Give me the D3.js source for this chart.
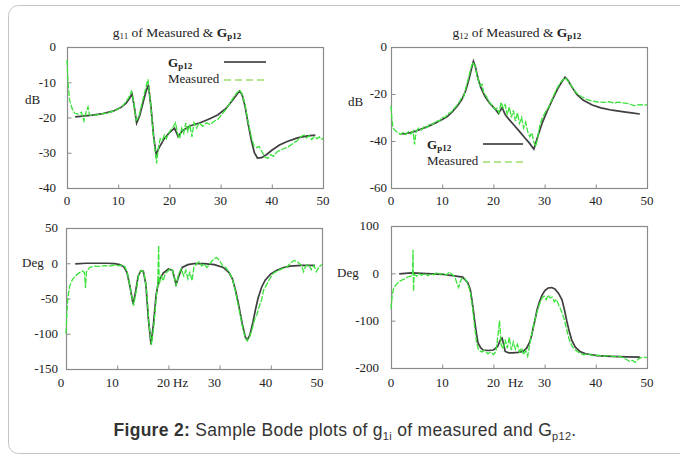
<!DOCTYPE html>
<html>
<head>
<meta charset="utf-8">
<script src="https://cdn.jsdelivr.net/npm/d3@7"></script>
<style>
  body { margin: 0; background: #fff; }
  text { font-family: "Liberation Serif", "Times New Roman", serif; fill: #222; }
</style>
</head>
<body>
<script>
// x ticks shared by all four plots (Hz)
const freqTicks = [0, 10, 20, 30, 40, 50];

// g11 magnitude (dB)
const g11MagModel = [[1.6,-19.8],[3,-19.6],[5,-19.3],[7,-18.9],[9,-18.2],[10.5,-17.2],[11.5,-16],[12.2,-14.6],[12.7,-13.3],[13.1,-16.5],[13.6,-21.6],[14.2,-19.5],[15,-15],[15.5,-12.3],[15.9,-10.8],[16.4,-17],[16.9,-25],[17.4,-30.6],[18,-28.5],[19,-26],[20,-24.3],[21,-23],[21.7,-25.4],[22.5,-23.8],[24,-22.4],[26,-21.5],[28,-20.3],[29.5,-19.2],[31,-17.5],[32.3,-15.2],[33.2,-13.4],[33.7,-12.5],[34.2,-13.5],[34.8,-17],[35.4,-22],[36,-26.5],[36.6,-30],[37.2,-31.5],[38,-31.4],[39,-30.5],[40,-29.3],[41.5,-27.8],[43,-26.8],[45,-25.8],[47,-25.2],[48.5,-25]];
const g11MagMeasured = [[0,-3.7],[0.2,-10],[0.5,-15],[1,-17.5],[1.5,-18.8],[2.2,-19],[2.8,-18.5],[3.3,-21],[3.7,-18.5],[4.1,-17],[4.4,-19.3],[5,-19.4],[6,-19.2],[7,-18.9],[8,-18.7],[9,-18.2],[10,-17.6],[11,-16.5],[12,-14.5],[12.6,-12.6],[13,-15.5],[13.5,-20.8],[14,-20],[14.8,-15],[15.4,-11.5],[15.8,-9.2],[16.3,-15.5],[16.8,-24],[17.2,-29],[17.5,-33],[17.8,-29],[18.2,-26],[18.6,-26.5],[19,-25],[19.4,-26],[19.8,-24.5],[20.3,-23.5],[20.8,-22.5],[21.2,-21.5],[21.6,-24.5],[22,-26],[22.4,-23],[22.8,-24.5],[23.2,-21.5],[23.6,-24],[24,-22],[24.4,-25.5],[24.8,-21.5],[25.3,-23],[25.8,-21.5],[26.5,-22.5],[27.2,-21.5],[28,-22],[28.8,-21],[29.5,-20.5],[30.3,-19],[31,-17.8],[32,-15.5],[33,-13.3],[33.7,-12.2],[34.2,-13.3],[34.8,-16.5],[35.4,-21.5],[36,-25.5],[36.5,-28],[37,-28.6],[37.5,-28.2],[38,-29.5],[38.6,-31.2],[39.2,-31.6],[39.8,-30.5],[40.3,-31],[41,-29.8],[42,-29],[43,-28.5],[44,-27.5],[45,-26.5],[45.8,-25.3],[46.3,-25],[46.8,-25.8],[47.3,-25.2],[47.8,-26.3],[48.3,-25.4],[48.8,-26],[49.3,-25.5],[49.8,-26.2],[50,-25.8]];

// g12 magnitude (dB)
const g12MagModel = [[2,-37],[3,-36.8],[4,-36.3],[5.3,-35.4],[7,-34],[8.6,-32.4],[10,-30.8],[11,-29.6],[12,-27.5],[13,-25],[13.8,-22.5],[14.6,-18.5],[15.2,-14],[15.7,-9.5],[16.1,-6],[16.5,-8.5],[17,-13.5],[17.6,-17.5],[18.4,-21.2],[19.3,-24],[20.3,-26.3],[21,-28.3],[21.7,-25.8],[22.3,-28.8],[23,-30.7],[24,-33.2],[25,-35.7],[26,-38.3],[27,-40.8],[27.9,-43.5],[28.6,-38.5],[29.5,-32.5],[30.5,-27.3],[31.5,-22.5],[32.5,-18],[33.3,-15],[34,-12.8],[34.6,-14.3],[35.4,-17.3],[36.3,-20.2],[37.5,-22.6],[39.3,-24.7],[41,-25.9],[43.2,-26.9],[45.5,-27.6],[47,-28],[48.6,-28.5]];
const g12MagMeasured = [[0,-25],[0.15,-30],[0.4,-34.5],[0.8,-35.5],[1.3,-36.3],[1.8,-37.2],[2.4,-36.4],[2.9,-37.3],[3.4,-36],[3.9,-37],[4.3,-35.8],[4.6,-41.5],[4.9,-36],[5.4,-34.5],[6,-35.3],[6.5,-33.8],[7,-34.3],[7.6,-32.6],[8.2,-33],[8.8,-31.4],[9.4,-31.6],[10,-30],[10.6,-29.8],[11.2,-28.4],[11.8,-27.6],[12.4,-26],[13,-24.5],[13.4,-23.2],[13.8,-21.5],[14.2,-21.2],[14.6,-17.5],[15.1,-13.5],[15.6,-9],[16,-6.5],[16.4,-8],[16.9,-13],[17.4,-16.5],[17.8,-15.8],[18.1,-19.5],[18.6,-21],[19.2,-23.5],[19.8,-25],[20.3,-26.5],[20.7,-26],[21.1,-28],[21.5,-23.5],[21.9,-26],[22.3,-24.5],[22.7,-29],[23.1,-25.5],[23.5,-30],[23.9,-27],[24.3,-31.5],[24.7,-28],[25.1,-32.5],[25.5,-30],[25.9,-34.5],[26.3,-32],[26.7,-36],[27.1,-38.2],[27.5,-36.5],[27.9,-40.5],[28.3,-42.3],[28.7,-38],[29.1,-33],[29.6,-30],[30.2,-27.5],[30.8,-25.5],[31.5,-22],[32.3,-18],[33.2,-14.8],[34,-13],[34.6,-14.5],[35.4,-17],[36.3,-19.8],[37.3,-21.3],[38.3,-22.3],[39.3,-23],[40.4,-23.4],[41.5,-23.6],[42.5,-23.3],[43.5,-23.8],[44.5,-23.5],[45.7,-23.9],[46.6,-24.2],[47.6,-25],[48.6,-24.5],[49.6,-24.7],[50,-24.5]];

// g11 phase (deg)
const g11PhaseModel = [[1.8,-1],[4,0],[6,0],[8,0],[9.5,-0.5],[10.5,-2],[11.3,-5],[11.9,-13],[12.5,-33],[13.1,-58],[13.6,-40],[14.1,-18],[14.6,-11],[15.1,-11.5],[15.6,-30],[16.1,-80],[16.6,-115],[17.1,-85],[17.6,-45],[18.1,-25],[19,-14],[20,-8],[20.8,-10],[21.5,-30],[22.1,-17],[22.7,-6],[23.8,-2],[25,-0.5],[27,-0.5],[29,-2],[30.7,-6],[31.8,-13],[32.5,-22],[33.1,-38],[33.7,-58],[34.4,-85],[35,-104],[35.4,-109],[35.9,-102],[36.5,-84],[37,-66],[37.5,-50],[38.2,-34],[38.9,-24],[40,-15],[41.2,-10],[42.5,-6],[43.8,-4],[46,-3],[48.6,-3]];
const g11PhaseMeasured = [[0,-100],[0.15,-75],[0.35,-50],[0.7,-33],[1.2,-24],[1.8,-18],[2.5,-14],[3.2,-11],[3.6,-13],[3.8,-35],[4,-12],[4.6,-6],[5.5,-4],[6.5,-4.5],[7.5,-3.5],[8.5,-4],[9.5,-2.5],[10.3,-3.5],[11,-2.5],[11.5,-5],[12,-14],[12.6,-38],[13.2,-60],[13.7,-40],[14.2,-16],[14.7,-10],[15.2,-13],[15.7,-35],[16.2,-85],[16.7,-116],[17.2,-85],[17.6,-50],[17.9,-30],[18.1,25],[18.2,-30],[18.6,-18],[19,-25],[19.4,-14],[19.8,-12],[20.3,-8],[20.8,-10],[21.5,-32],[22,-15],[22.5,-8],[23,-18],[23.4,-10],[23.8,-22],[24.2,-12],[24.6,-25],[25,-5],[25.5,-1],[26,2],[26.5,-4],[27,-1],[27.5,-6],[28.2,0],[28.8,6],[29.4,8],[30,4],[30.6,-4],[31.2,-6],[31.8,-12],[32.5,-22],[33.1,-40],[33.7,-62],[34.4,-88],[35,-106],[35.4,-110],[35.9,-104],[36.4,-92],[36.9,-78],[37.3,-73],[37.7,-62],[38.2,-52],[38.6,-38],[39.2,-30],[39.8,-22],[40.5,-14],[41.5,-10],[42.5,-7],[43.2,-5],[43.8,0],[44.5,4],[45,3],[45.5,0],[46,-3],[46.4,-12],[46.8,-4],[47.4,-2],[47.9,-9],[48.4,-3],[48.9,-12],[49.4,-5],[50,-2]];

// g12 phase (deg)
const g12PhaseModel = [[1.6,-1],[4,1],[6,0],[8,-1],[10,-2],[12,-5],[14,-8],[15,-20],[15.5,-35],[15.8,-56],[16.1,-80],[16.4,-105],[16.7,-128],[17,-147],[17.5,-157],[18,-162],[19,-163],[20,-162],[20.8,-155],[21.4,-140],[21.7,-137],[22,-150],[22.3,-165],[23,-168],[23.8,-168],[24.8,-167],[25.8,-165],[26.5,-158],[27.1,-145],[27.5,-130],[27.8,-114],[28.2,-95],[28.5,-78],[29,-60],[29.5,-46],[30.1,-36],[30.7,-31],[31.4,-30],[32,-33],[32.7,-42],[33.4,-56],[33.9,-78],[34.3,-99],[34.8,-122],[35.3,-141],[36,-156],[36.9,-165],[38,-170],[40.2,-174],[43,-175.5],[46,-176.5],[48.6,-177]];
const g12PhaseMeasured = [[0,-75],[0.2,-50],[0.5,-32],[1,-24],[1.5,-18],[2,-15],[2.6,-12],[3.2,-8],[3.8,-6],[4.2,-4],[4.3,50],[4.4,-38],[4.5,-2],[5,-6],[5.5,-1],[6,-4],[6.6,0],[7.2,-5],[7.8,-1],[8.4,-3],[9,2],[9.6,-2],[10.2,0],[10.8,-4],[11.4,3],[12,-3],[12.5,-8],[12.9,-22],[13.2,-30],[13.5,-18],[13.9,-10],[14.5,-12],[15,-22],[15.5,-40],[15.9,-70],[16.3,-110],[16.7,-145],[17.1,-162],[17.7,-166],[18.3,-163],[18.9,-170],[19.5,-166],[20,-172],[20.5,-165],[20.9,-130],[21.2,-100],[21.5,-150],[21.9,-160],[22.3,-140],[22.7,-158],[23.1,-135],[23.5,-162],[23.9,-145],[24.3,-160],[24.7,-150],[25.1,-166],[25.5,-158],[25.9,-172],[26.3,-163],[26.7,-175],[27.1,-150],[27.5,-128],[27.9,-108],[28.3,-90],[28.7,-75],[29.1,-62],[29.5,-52],[29.9,-48],[30.3,-56],[30.7,-46],[31.1,-52],[31.5,-50],[31.9,-60],[32.3,-55],[32.8,-68],[33.3,-80],[33.8,-96],[34.3,-118],[34.8,-140],[35.4,-155],[36,-162],[36.8,-168],[37.6,-172],[38.5,-170],[39.4,-174],[40.5,-173],[41.5,-175],[42.5,-174],[43.5,-176],[44.5,-175],[45.3,-178],[46,-182],[46.6,-186],[47.2,-184],[47.7,-188],[48.3,-181],[48.9,-178],[49.5,-177],[50,-178]];

const W = 680, H = 460;
const modelColor = "#2a2a2a", measColor = "#3be33b";

const svg = d3.select("body").append("svg").attr("width", W).attr("height", H);

// outer figure frame
svg.append("rect")
  .attr("x", 8.5).attr("y", 5.5).attr("width", 684).attr("height", 448)
  .attr("rx", 10).attr("fill", "none").attr("stroke", "#c4c4c4");

const panels = [
  {x0: 67, x1: 323, y0: 47, y1: 188, dom: [-40, 0], ticks: [0, -10, -20, -30, -40], gap: 11,
   model: g11MagModel, meas: g11MagMeasured, unit: "dB", ux: 25, uy: 104, xlabY: 205, xdx: 0},
  {x0: 391, x1: 647, y0: 47, y1: 188, dom: [-60, 0], ticks: [0, -20, -40, -60], gap: 4,
   model: g12MagModel, meas: g12MagMeasured, unit: "dB", ux: 348, uy: 106, xlabY: 205, xdx: 0},
  {x0: 66, x1: 322, y0: 228, y1: 369, dom: [-150, 50], ticks: [50, 0, -50, -100, -150], gap: 8,
   model: g11PhaseModel, meas: g11PhaseMeasured, unit: "Deg", ux: 22, uy: 267, xlabY: 387, xdx: -5, hz: 173},
  {x0: 391, x1: 647, y0: 226, y1: 368, dom: [-200, 100], ticks: [100, 0, -100, -200], gap: 12,
   model: g12PhaseModel, meas: g12PhaseMeasured, unit: "Deg", ux: 337, uy: 277, xlabY: 387, xdx: 0, hz: 508}
];

panels.forEach(p => {
  const x = d3.scaleLinear().domain([0, 50]).range([p.x0, p.x1]);
  const y = d3.scaleLinear().domain(p.dom).range([p.y1, p.y0]);
  const g = svg.append("g");

  // frame
  g.append("rect")
    .attr("x", p.x0 + 0.5).attr("y", p.y0 + 0.5)
    .attr("width", p.x1 - p.x0).attr("height", p.y1 - p.y0)
    .attr("fill", "none").attr("stroke", "#8a8a8a").attr("stroke-width", 1.2);

  // inward ticks
  const xa = g.append("g").attr("transform", `translate(0,${p.y1 + 0.5})`)
    .call(d3.axisTop(x).tickValues(freqTicks).tickSize(4).tickFormat(""));
  const ya = g.append("g").attr("transform", `translate(${p.x0 + 0.5},0)`)
    .call(d3.axisRight(y).tickValues(p.ticks).tickSize(4).tickFormat(""));
  [xa, ya].forEach(a => {
    a.select(".domain").remove();
    a.selectAll("line").attr("stroke", "#8a8a8a");
  });

  // tick labels
  g.selectAll(".xl").data(freqTicks).join("text")
    .attr("x", d => x(d) + p.xdx).attr("y", p.xlabY)
    .attr("text-anchor", "middle").attr("font-size", 13).text(d => d);
  g.selectAll(".yl").data(p.ticks).join("text")
    .attr("x", p.x0 - p.gap).attr("y", d => y(d)).attr("dy", "0.33em")
    .attr("text-anchor", "end").attr("font-size", 13).text(d => d);

  g.append("text").attr("x", p.ux).attr("y", p.uy).attr("font-size", 13).text(p.unit);
  if (p.hz) g.append("text").attr("x", p.hz).attr("y", p.xlabY).attr("font-size", 13).text("Hz");

  const line = d3.line().x(d => x(d[0])).y(d => y(d[1]));
  g.append("path").datum(p.model).attr("d", line)
    .attr("fill", "none").attr("stroke", modelColor).attr("stroke-width", 1.7).attr("opacity", 0.9);
  g.append("path").datum(p.meas).attr("d", line)
    .attr("fill", "none").attr("stroke", measColor).attr("stroke-width", 1.3)
    .attr("stroke-dasharray", "6,1.5");
});

// titles
function title(cx, sub) {
  const t = svg.append("text").attr("x", cx).attr("y", 37)
    .attr("text-anchor", "middle").attr("font-size", 13.5);
  t.append("tspan").text("g");
  t.append("tspan").attr("font-size", 9).attr("dy", 2).text(sub);
  t.append("tspan").attr("dy", -2).text(" of Measured & ");
  t.append("tspan").attr("font-weight", "bold").text("G");
  t.append("tspan").attr("font-weight", "bold").attr("font-size", 9).attr("dy", 2).text("p12");
}
title(177, "11");
title(517, "12");

// legends
function legend(tx, ty, lx0, lx1) {
  const t = svg.append("text").attr("x", tx).attr("y", ty).attr("font-size", 13);
  t.append("tspan").attr("font-weight", "bold").text("G");
  t.append("tspan").attr("font-weight", "bold").attr("font-size", 9).attr("dy", 2).text("p12");
  svg.append("line").attr("x1", lx0).attr("x2", lx1).attr("y1", ty - 5).attr("y2", ty - 5)
    .attr("stroke", modelColor).attr("stroke-width", 1.6);
  svg.append("text").attr("x", tx).attr("y", ty + 16).attr("font-size", 13).text("Measured");
  svg.append("line").attr("x1", lx0).attr("x2", lx1).attr("y1", ty + 13).attr("y2", ty + 13)
    .attr("stroke", "#9ade6a").attr("stroke-width", 1.3).attr("stroke-dasharray", "7,4");
}
legend(168, 67, 224, 266);
legend(427, 149, 483, 523);

// caption
const cap = svg.append("text").attr("x", 345).attr("y", 436).attr("text-anchor", "middle")
  .attr("font-size", 17.5).attr("letter-spacing", 0.3)
  .style("font-family", "'Liberation Sans', Arial, sans-serif").style("fill", "#333");
cap.append("tspan").attr("font-weight", "bold").text("Figure 2:");
cap.append("tspan").text(" Sample Bode plots of g");
cap.append("tspan").attr("font-size", 11).attr("dy", 4).text("1i");
cap.append("tspan").attr("dy", -4).text(" of measured and G");
cap.append("tspan").attr("font-size", 11).attr("dy", 4).text("p12");
cap.append("tspan").attr("dy", -4).text(".");
</script>
</body>
</html>
